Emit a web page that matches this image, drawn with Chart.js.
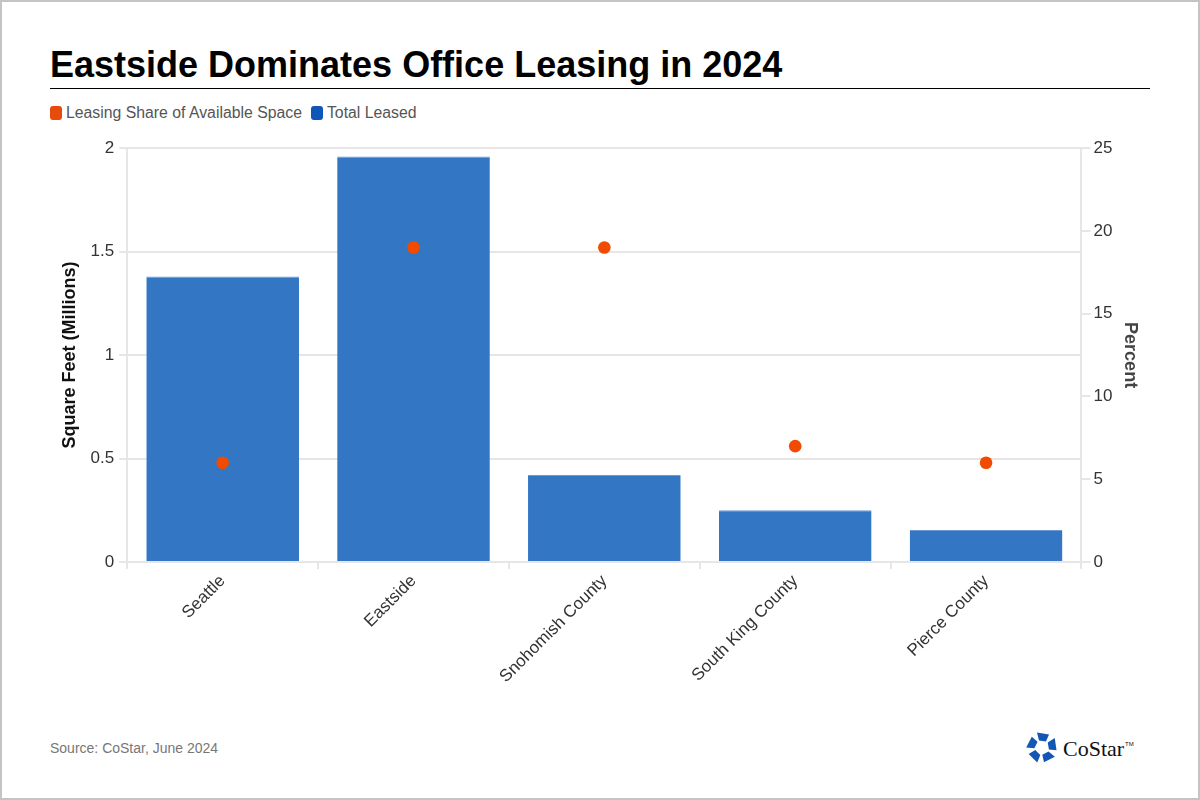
<!DOCTYPE html>
<html><head><meta charset="utf-8">
<script src="https://cdn.jsdelivr.net/npm/chart.js@4.4.1/dist/chart.umd.min.js"></script>
<style>
html,body{margin:0;padding:0;background:#fff;}
body{width:1200px;height:800px;position:relative;overflow:hidden;font-family:"Liberation Sans",Arial,sans-serif;}
#frame{position:absolute;left:0;top:0;width:1196px;height:796px;border:2px solid #c4c4c4;}
#title{position:absolute;left:50px;top:44px;font-size:36px;line-height:41px;font-weight:bold;color:#000;white-space:nowrap;}
#rule{position:absolute;left:50px;top:88px;width:1100px;height:1px;background:#000;}
#legend{position:absolute;left:50px;top:104px;height:18px;font-size:15.8px;color:#555;display:flex;align-items:center;}
#legend .it{display:flex;align-items:center;margin-right:9px;}
#legend .sw{width:12px;height:14px;border-radius:3px;margin-right:4px;}
#wrap{position:absolute;left:50px;top:133px;width:1100px;height:556px;}
#source{position:absolute;left:50px;top:740px;font-size:14px;color:#777;}
#logo{position:absolute;left:1026px;top:731px;}
</style></head>
<body>
<div id="frame"></div>
<div id="title">Eastside Dominates Office Leasing in 2024</div>
<div id="rule"></div>
<div id="legend">
  <div class="it"><div class="sw" style="background:#E84A0C"></div>Leasing Share of Available Space</div>
  <div class="it"><div class="sw" style="background:#0E56B8"></div>Total Leased</div>
</div>
<div id="wrap"><canvas id="c"></canvas></div>
<div id="source">Source: CoStar, June 2024</div>
<svg id="logo" width="124" height="34" viewBox="0 0 124 34">
  <g fill="#1257B5" transform="translate(16,16.5)">
    <polygon points="-5,-15 7,-13 4,-6 -3,-7"/>
    <polygon points="-5,-15 7,-13 4,-6 -3,-7" transform="rotate(72)"/>
    <polygon points="-5,-15 7,-13 4,-6 -3,-7" transform="rotate(144)"/>
    <polygon points="-5,-15 7,-13 4,-6 -3,-7" transform="rotate(216)"/>
    <polygon points="-5,-15 7,-13 4,-6 -3,-7" transform="rotate(288)"/>
  </g>
  <text x="37" y="25" font-family="'Liberation Serif','DejaVu Serif',serif" font-size="22" fill="#111">CoStar</text>
  <text x="99" y="15" font-family="'Liberation Sans',sans-serif" font-size="6" fill="#111">TM</text>
</svg>
<script>
const categories = ["Seattle","Eastside","Snohomish County","South King County","Pierce County"];
const totalLeased = [1.38, 1.96, 0.42, 0.25, 0.155];
const leasingShare = [6.0, 19.0, 19.0, 7.0, 6.0];
const leftTicks = [0, 0.5, 1, 1.5, 2];
const rightTicks = [0, 5, 10, 15, 20, 25];

const FAM = "'Liberation Sans', Arial, sans-serif";
const tickFont = {family:FAM, size:17};
new Chart(document.getElementById('c'), {
  data: {
    labels: categories,
    datasets: [
      {type:'line', label:'Leasing Share of Available Space', data: leasingShare, yAxisID:'y1',
       showLine:false, pointRadius:6.3, pointHoverRadius:6.3, pointBackgroundColor:'#F04B00', pointBorderWidth:0, borderColor:'#F04B00', order:0},
      {type:'bar', label:'Total Leased', data: totalLeased, yAxisID:'y',
       backgroundColor:'#3376C4', borderColor:'#6c9ad6', borderWidth:{top:1,left:0,right:0,bottom:0},
       borderSkipped:'bottom', categoryPercentage:1.0, barPercentage:0.8, order:1}
    ]
  },
  options: {
    responsive:true, maintainAspectRatio:false, animation:false,
    layout:{padding:{left:0,right:0,top:2,bottom:0}},
    plugins:{legend:{display:false}, tooltip:{enabled:false}},
    scales:{
      x:{
        grid:{display:true, drawOnChartArea:false, drawTicks:true, tickLength:7, color:'#e6e6e6', lineWidth:2},
        border:{display:true, color:'#e6e6e6', width:2},
        ticks:{font:tickFont, color:'#333', minRotation:45, maxRotation:45, padding:2}
      },
      y:{
        position:'left', min:0, max:2,
        afterBuildTicks: a => { a.ticks = leftTicks.map(v=>({value:v})); },
        grid:{color:'#e6e6e6', lineWidth:2, drawTicks:true, tickLength:8},
        border:{display:true, color:'#e6e6e6', width:2},
        ticks:{font:tickFont, color:'#333', padding:5, callback: v => String(v)},
        title:{display:true, text:'Square Feet (Millions)', font:{family:FAM, size:18, weight:'bold'}, color:'#111', padding:{top:9,bottom:5}}
      },
      y1:{
        position:'right', min:0, max:25,
        afterBuildTicks: a => { a.ticks = rightTicks.map(v=>({value:v})); },
        grid:{drawOnChartArea:false, drawTicks:true, tickLength:9, color:'#e6e6e6', lineWidth:2},
        border:{display:true, color:'#e6e6e6', width:2},
        ticks:{font:tickFont, color:'#333', padding:3, callback: v => String(v)},
        title:{display:true, text:'Percent', font:{family:FAM, size:18, weight:'bold'}, color:'#444', padding:{top:9,bottom:4}}
      }
    }
  }
});
</script>
</body></html>
